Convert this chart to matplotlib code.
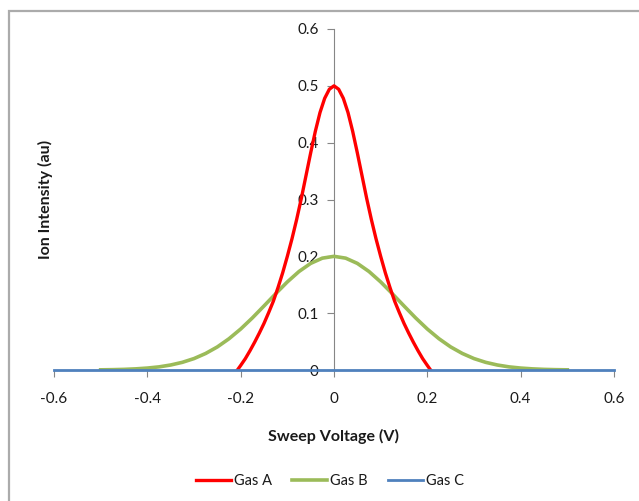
import matplotlib
matplotlib.use("Agg")
import matplotlib.pyplot as plt
from matplotlib.patches import Rectangle

# Gas A (red)
gas_a_x = [-0.207, -0.20, -0.19, -0.18, -0.17, -0.16, -0.15, -0.14, -0.13, -0.12,
           -0.11, -0.10, -0.09, -0.08, -0.07, -0.06, -0.05, -0.04, -0.03, -0.02,
           -0.01, 0.00, 0.01, 0.02, 0.03, 0.04, 0.05, 0.06, 0.07, 0.08,
           0.09, 0.10, 0.11, 0.12, 0.13, 0.14, 0.15, 0.16, 0.17, 0.18,
           0.19, 0.20, 0.207]
gas_a_y = [0.000, 0.008, 0.020, 0.034, 0.049, 0.065, 0.082, 0.101, 0.121, 0.145,
           0.171, 0.200, 0.231, 0.265, 0.302, 0.342, 0.382, 0.420, 0.453, 0.478,
           0.494, 0.500, 0.494, 0.478, 0.453, 0.420, 0.382, 0.342, 0.302, 0.265,
           0.231, 0.200, 0.171, 0.145, 0.121, 0.101, 0.082, 0.065, 0.049, 0.034,
           0.020, 0.008, 0.000]

# Gas B (green)
gas_b_x = [-0.500, -0.475, -0.450, -0.425, -0.400, -0.375, -0.350, -0.325, -0.300, -0.275,
           -0.250, -0.225, -0.200, -0.175, -0.150, -0.125, -0.100, -0.075, -0.050, -0.025,
           0.000, 0.025, 0.050, 0.075, 0.100, 0.125, 0.150, 0.175, 0.200, 0.225,
           0.250, 0.275, 0.300, 0.325, 0.350, 0.375, 0.400, 0.425, 0.450, 0.475, 0.500]
gas_b_y = [0.0003, 0.0006, 0.0011, 0.0020, 0.0034, 0.0055, 0.0088, 0.0135, 0.0201, 0.0291,
           0.0406, 0.0550, 0.0721, 0.0916, 0.1127, 0.1342, 0.1550, 0.1733, 0.1876, 0.1968,
           0.2000, 0.1968, 0.1876, 0.1733, 0.1550, 0.1342, 0.1127, 0.0916, 0.0721, 0.0550,
           0.0406, 0.0291, 0.0201, 0.0135, 0.0088, 0.0055, 0.0034, 0.0020, 0.0011, 0.0006, 0.0003]

# Gas C (blue) - flat at zero
gas_c_x = [-0.6, 0.6]
gas_c_y = [0.0, 0.0]

x_ticks = [-0.6, -0.4, -0.2, 0, 0.2, 0.4, 0.6]
x_tick_labels = ["-0.6", "-0.4", "-0.2", "0", "0.2", "0.4", "0.6"]
y_ticks = [0, 0.1, 0.2, 0.3, 0.4, 0.5, 0.6]
y_tick_labels = ["0", "0.1", "0.2", "0.3", "0.4", "0.5", "0.6"]

plt.rcParams["font.family"] = ["Lato", "DejaVu Sans"]

fig = plt.figure(figsize=(6.39, 5.01), dpi=100)
fig.patches.append(Rectangle((9 / 639, -0.1), 1.2, (501 - 11) / 501 + 0.1,
                             transform=fig.transFigure, facecolor="none",
                             edgecolor="#ababab", linewidth=1.6, zorder=0))

ax = fig.add_axes([54 / 639, 131 / 501, 560 / 639, 341 / 501])
ax.set_facecolor("none")

ax.plot(gas_a_x, gas_a_y, color="#FF0000", lw=2.4, label="Gas A", zorder=4)
ax.plot(gas_b_x, gas_b_y, color="#9BBB59", lw=2.6, label="Gas B", zorder=3)
ax.plot(gas_c_x, gas_c_y, color="#4F81BD", lw=2.0, label="Gas C", zorder=5, clip_on=False)

ax.set_xlim(-0.6, 0.6)
ax.set_ylim(0, 0.6)

for s in ["top", "right"]:
    ax.spines[s].set_visible(False)
ax.spines["left"].set_position(("data", 0))
ax.spines["left"].set_color("#868686")
ax.spines["bottom"].set_color("#868686")
ax.spines["left"].set_zorder(1)

ax.set_xticks(x_ticks)
ax.set_xticklabels(x_tick_labels)
ax.set_yticks(y_ticks)
ax.set_yticklabels(y_tick_labels)
ax.tick_params(axis="x", direction="out", length=5, color="#868686",
               labelsize=11, labelcolor="#1a1a1a", pad=11)
ax.tick_params(axis="y", direction="out", length=5, color="#868686",
               labelsize=11, labelcolor="#1a1a1a", pad=6)

fig.text(334 / 639, 1 - 436 / 501, "Sweep Voltage (V)", ha="center", va="center",
         fontsize=11.5, fontweight="bold", color="#1a1a1a")
fig.text(45 / 639, 1 - 199 / 501, "Ion Intensity (au)", ha="center", va="center",
         rotation=90, fontsize=11.5, fontweight="bold", color="#1a1a1a")

leg = fig.legend(loc="center", bbox_to_anchor=(330 / 639, 1 - 481 / 501), ncol=3,
                 frameon=False, fontsize=10.5, handlelength=2.4, handletextpad=0.2,
                 columnspacing=1.4)
for t in leg.get_texts():
    t.set_color("#1a1a1a")

fig.savefig("out.png", dpi=100)
